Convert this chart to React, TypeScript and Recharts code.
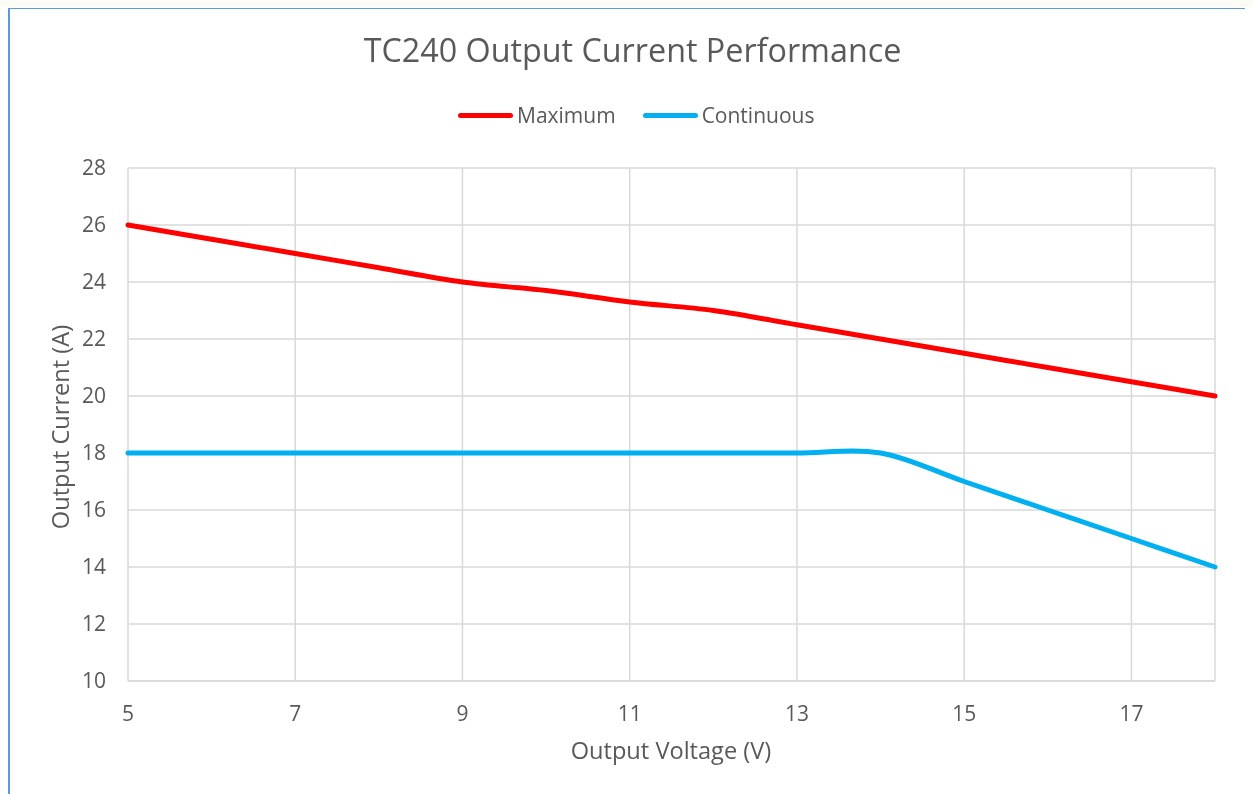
import { LineChart, Line, XAxis, YAxis, CartesianGrid } from 'recharts'

const voltage = [5, 6, 7, 8, 9, 10, 11, 12, 13, 14, 15, 16, 17, 18]
const maximum = [26, 25.5, 25, 24.5, 24, 23.7, 23.3, 23, 22.5, 22, 21.5, 21, 20.5, 20]
const continuous = [18, 18, 18, 18, 18, 18, 18, 18, 18, 18, 17, 16, 15, 14]
const xTicks = [5, 7, 9, 11, 13, 15, 17]
const yTicks = [10, 12, 14, 16, 18, 20, 22, 24, 26, 28]

const data = voltage.map((v, i) => ({ v, max: maximum[i], cont: continuous[i] }))

const FONT = '"Open Sans", "Noto Sans", sans-serif'
const TEXT = '#595959'
const GRID = '#d9d9d9'

// Catmull-Rom style smoothing, close to Excel's "smoothed line"
function smooth(context: any) {
  let pts: number[][] = []
  return {
    areaStart() {},
    areaEnd() {},
    lineStart() {
      pts = []
    },
    point(x: number, y: number) {
      pts.push([+x, +y])
    },
    lineEnd() {
      if (!pts.length) return
      context.moveTo(pts[0][0], pts[0][1])
      for (let i = 0; i < pts.length - 1; i++) {
        const p0 = pts[i - 1] || pts[i]
        const p1 = pts[i]
        const p2 = pts[i + 1]
        const p3 = pts[i + 2] || p2
        context.bezierCurveTo(
          p1[0] + (p2[0] - p0[0]) / 6,
          p1[1] + (p2[1] - p0[1]) / 6,
          p2[0] - (p3[0] - p1[0]) / 6,
          p2[1] - (p3[1] - p1[1]) / 6,
          p2[0],
          p2[1],
        )
      }
    },
  }
}

function LegendItem({ color, label }: { color: string; label: string }) {
  return (
    <div style={{ display: 'flex', alignItems: 'center' }}>
      <div style={{ width: 55, height: 5, borderRadius: 3, background: color, marginRight: 4 }} />
      <span>{label}</span>
    </div>
  )
}

export default function App() {
  return (
    <div style={{ position: 'relative', width: 1245, height: 786, fontFamily: FONT, color: TEXT }}>
      <div style={{ position: 'fixed', top: 0, left: 0, width: 1253, height: 7, background: '#fdfbf6' }} />
      <div
        style={{
          position: 'absolute',
          left: 0,
          top: -1,
          width: 1245,
          height: 787,
          borderLeft: '2px solid #5b9bd5',
          borderTop: '2px solid #5b9bd5',
          boxSizing: 'border-box',
        }}
      />
      <div style={{ position: 'absolute', top: 21, left: 2, width: 1245, textAlign: 'center', fontSize: 32.3, lineHeight: '40px' }}>
        TC240 Output Current Performance
      </div>
      <div style={{ position: 'absolute', top: 93, left: 450, display: 'flex', gap: 27, fontSize: 21, lineHeight: '28px' }}>
        <LegendItem color="#ff0000" label="Maximum" />
        <LegendItem color="#00b0f0" label="Continuous" />
      </div>
      <div style={{ position: 'absolute', top: 727, left: 0, width: 1326, textAlign: 'center', fontSize: 23.6, lineHeight: '30px' }}>
        Output Voltage (V)
      </div>
      <div
        style={{
          position: 'absolute',
          left: 52,
          top: 419,
          transform: 'translate(-50%, -50%) rotate(-90deg)',
          whiteSpace: 'nowrap',
          fontSize: 23.6,
          lineHeight: '30px',
        }}
      >
        Output Current (A)
      </div>
      <div style={{ position: 'absolute', left: 0, top: 0 }}>
        <LineChart width={1245} height={786} data={data} margin={{ top: 160, right: 38, left: 0, bottom: 0 }}>
          <CartesianGrid stroke={GRID} strokeWidth={1.5} />
          <XAxis
            dataKey="v"
            type="number"
            domain={[5, 18]}
            ticks={xTicks}
            height={113}
            tickLine={false}
            tickSize={0}
            tickMargin={25}
            axisLine={{ stroke: GRID, strokeWidth: 1.5 }}
            tick={{ fill: TEXT, fontSize: 21, fontFamily: FONT }}
          />
          <YAxis
            type="number"
            domain={[10, 28]}
            ticks={yTicks}
            width={120}
            tickLine={false}
            tickSize={0}
            tickMargin={22}
            axisLine={false}
            tick={{ fill: TEXT, fontSize: 21, fontFamily: FONT }}
          />
          <Line
            dataKey="max"
            type={smooth as any}
            stroke="#ff0000"
            strokeWidth={5}
            strokeLinecap="round"
            dot={false}
            activeDot={false}
            isAnimationActive={false}
          />
          <Line
            dataKey="cont"
            type={smooth as any}
            stroke="#00b0f0"
            strokeWidth={5}
            strokeLinecap="round"
            dot={false}
            activeDot={false}
            isAnimationActive={false}
          />
        </LineChart>
      </div>
    </div>
  )
}
